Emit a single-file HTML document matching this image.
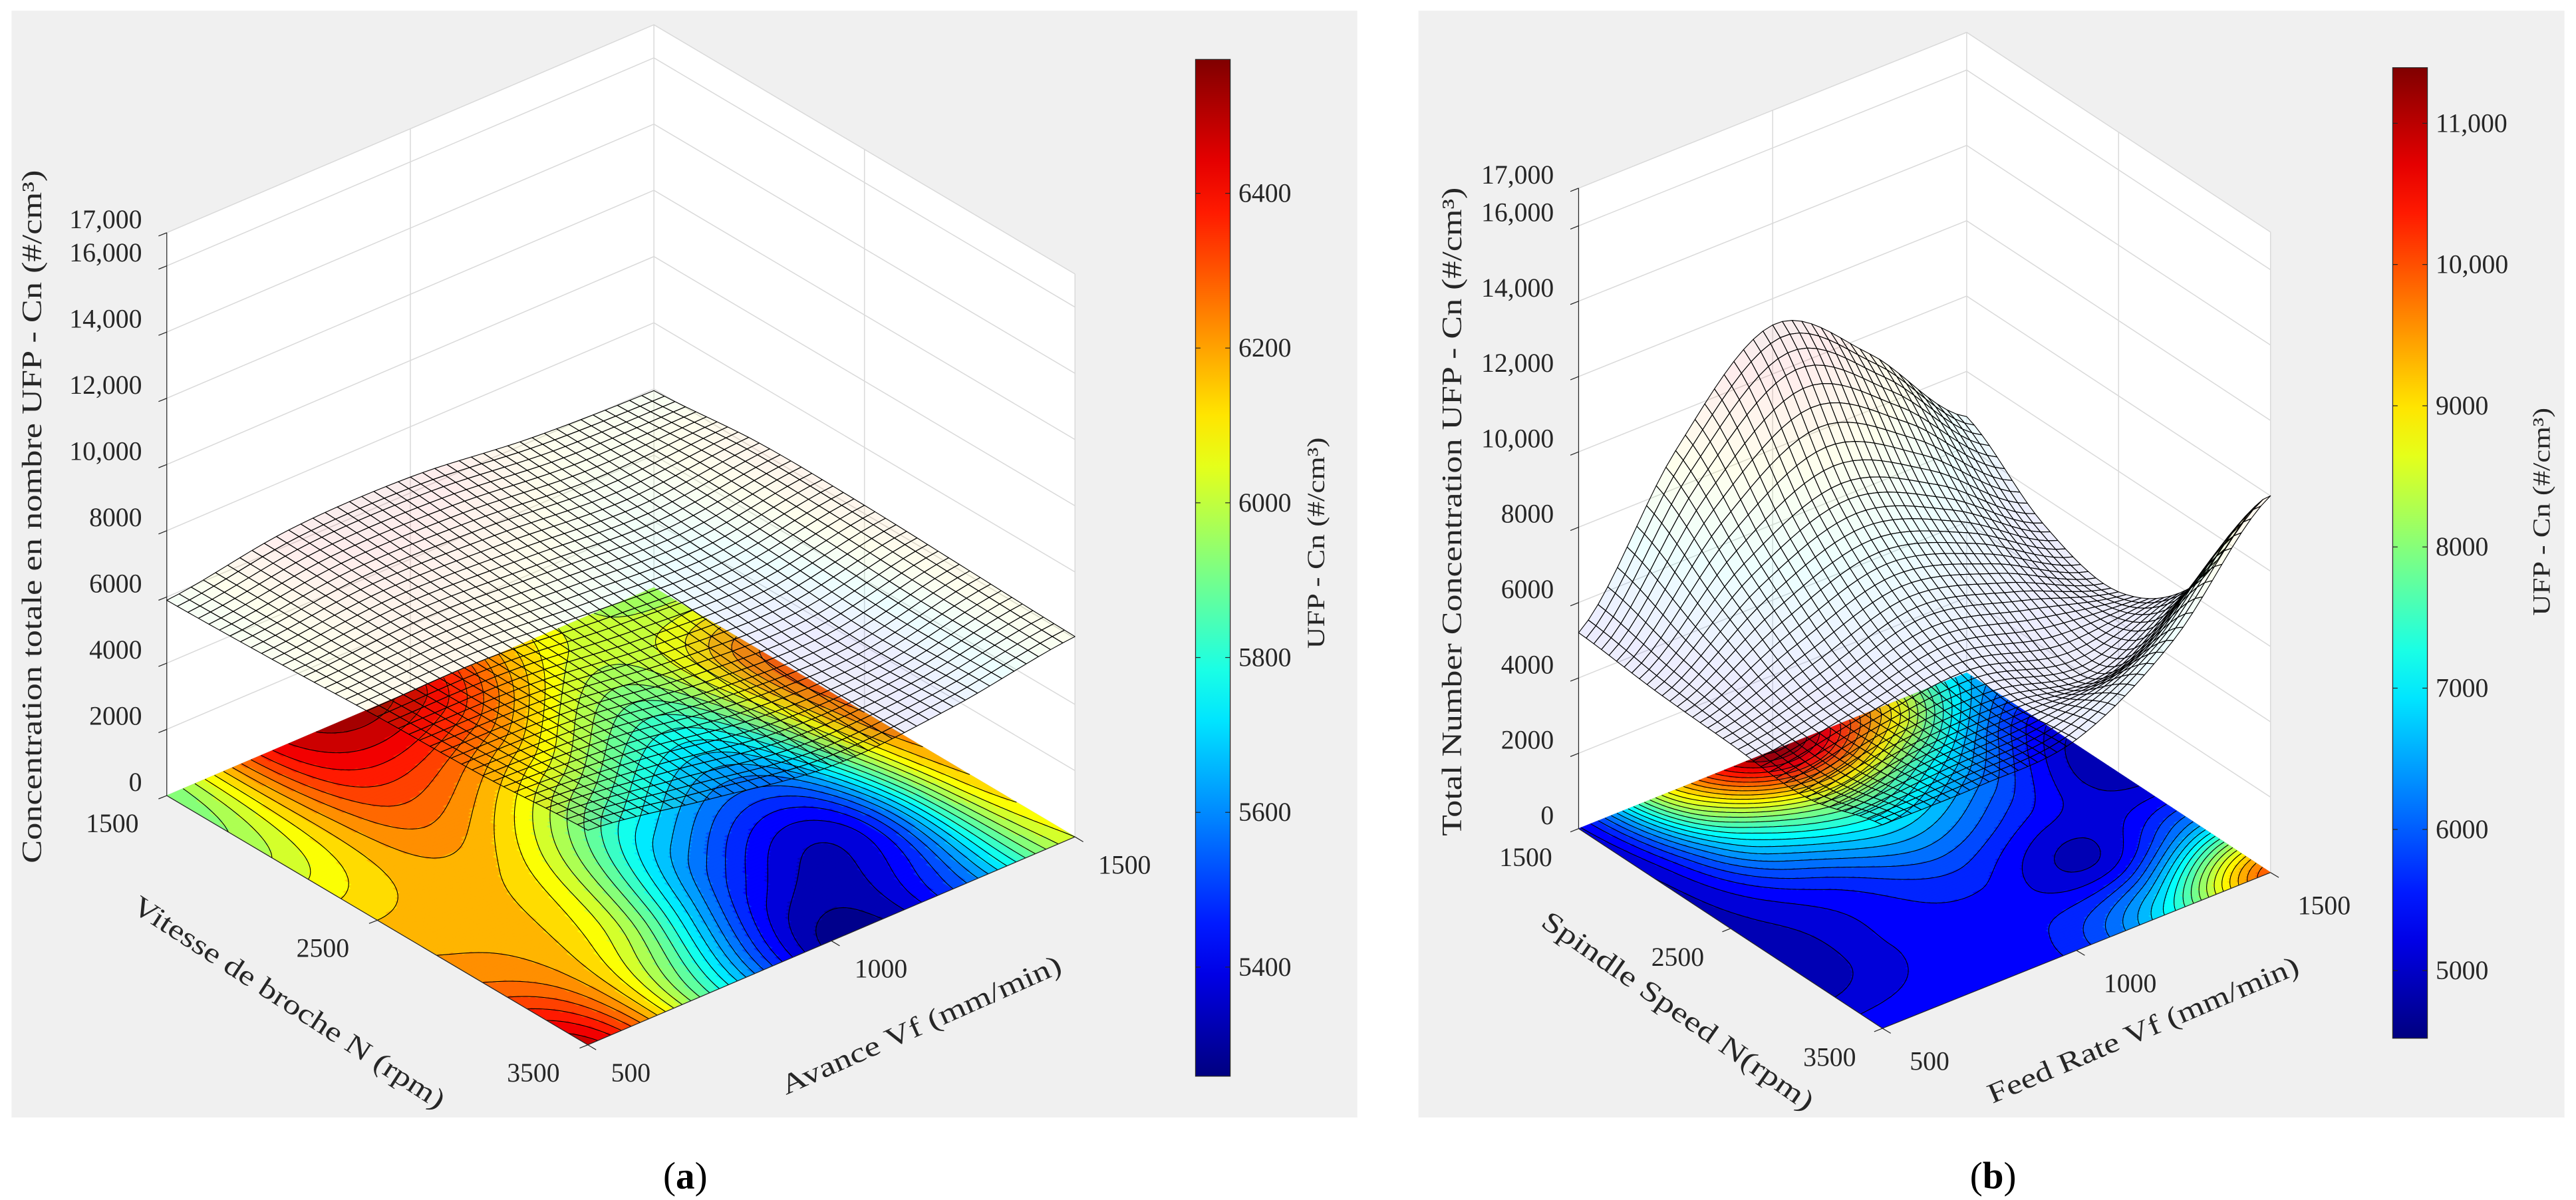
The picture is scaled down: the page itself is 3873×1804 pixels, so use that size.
<!DOCTYPE html>
<html><head><meta charset="utf-8">
<style>html,body{margin:0;padding:0;background:#fff;overflow:hidden}svg{display:block}text{fill:#262626}</style>
</head><body>
<svg id="fig" width="3873" height="1804" viewBox="0 0 1560 727" preserveAspectRatio="none" xmlns="http://www.w3.org/2000/svg" font-family="'Liberation Serif', serif">
<defs id="defs"></defs>
<rect x="7" y="6.5" width="815" height="670.5" fill="#f0f0f0"/>
<rect x="859" y="6.5" width="694" height="670.5" fill="#f0f0f0"/>
<g id="pa"></g>
<g id="pb"></g>
<text transform="translate(25,313) rotate(-90)" text-anchor="middle" font-size="17" textLength="420" lengthAdjust="spacingAndGlyphs">Concentration totale en nombre UFP - Cn (#/cm³)</text>
<text transform="translate(172,612) rotate(33)" text-anchor="middle" font-size="17" textLength="222" lengthAdjust="spacingAndGlyphs">Vitesse de broche N (rpm)</text>
<text transform="translate(560,626) rotate(-24)" text-anchor="middle" font-size="17" textLength="184" lengthAdjust="spacingAndGlyphs">Avance Vf (mm/min)</text>
<text transform="translate(802,329) rotate(-90)" text-anchor="middle" font-size="15" textLength="128" lengthAdjust="spacingAndGlyphs">UFP - Cn (#/cm³)</text>
<text transform="translate(885,310) rotate(-90)" text-anchor="middle" font-size="17" textLength="393" lengthAdjust="spacingAndGlyphs">Total Number Concentration UFP - Cn (#/cm³)</text>
<text transform="translate(1013,617) rotate(35)" text-anchor="middle" font-size="17" textLength="197" lengthAdjust="spacingAndGlyphs">Spindle Speed N(rpm)</text>
<text transform="translate(1300,629) rotate(-23)" text-anchor="middle" font-size="17" textLength="203" lengthAdjust="spacingAndGlyphs">Feed Rate Vf (mm/min)</text>
<text transform="translate(1544,310) rotate(-90)" text-anchor="middle" font-size="15" textLength="126" lengthAdjust="spacingAndGlyphs">UFP - Cn (#/cm³)</text>
<text x="415" y="720" text-anchor="middle" font-size="23" style="fill:#000">(<tspan font-weight="bold" style="fill:#000">a</tspan>)</text>
<text x="1207" y="720" text-anchor="middle" font-size="23" style="fill:#000">(<tspan font-weight="bold" style="fill:#000">b</tspan>)</text>
</svg>
<script>
// ---- data ----
const gridSpeed = [1500, 2000, 2500, 3000, 3500];
const gridFeed = [500, 750, 1000, 1250, 1500];
const cnA_1500 = [5900, 6450, 6480, 6100, 5950];
const cnA_2000 = [6000, 6300, 6150, 5900, 6250];
const cnA_2500 = [6150, 6150, 5800, 5650, 6250];
const cnA_3000 = [6250, 6050, 5500, 5400, 6150];
const cnA_3500 = [6480, 5850, 5280, 5500, 6050];
const cnB_1500 = [5200, 9000, 11300, 9500, 6800];
const cnB_2000 = [5000, 7000, 8000, 7000, 5300];
const cnB_2500 = [4900, 5500, 6200, 5600, 4800];
const cnB_3000 = [4800, 5300, 5400, 5000, 6300];
const cnB_3500 = [5400, 5400, 5600, 7200, 10000];
const speedTicks = [1500, 2500, 3500];
const feedTicks = [500, 1000, 1500];
const zTicks = [0, 2000, 4000, 6000, 8000, 10000, 12000, 14000, 16000, 17000];
const zTickLabels = ['0', '2000', '4000', '6000', '8000', '10,000', '12,000', '14,000', '16,000', '17,000'];
const cbTicksA = [5400, 5600, 5800, 6000, 6200, 6400];
const cbTicksB = [5000, 6000, 7000, 8000, 9000, 10000, 11000];
const cbTickLabelsB = ['5000', '6000', '7000', '8000', '9000', '10,000', '11,000'];
const climA = [5259, 6573];
const climB = [4521, 11394];

const NS = 'http://www.w3.org/2000/svg';
function mk(tag, attrs, parent) {
  const e = document.createElementNS(NS, tag);
  for (const k in attrs) e.setAttribute(k, attrs[k]);
  parent.appendChild(e);
  return e;
}
function clamp(x) { return Math.max(0, Math.min(1, x)); }
function jet(t) {
  t = clamp(t);
  const r = clamp(1.5 - Math.abs(4 * t - 3)), g = clamp(1.5 - Math.abs(4 * t - 2)), b = clamp(1.5 - Math.abs(4 * t - 1));
  return 'rgb(' + Math.round(r * 255) + ',' + Math.round(g * 255) + ',' + Math.round(b * 255) + ')';
}
function cr(p0, p1, p2, p3, t) {
  return 0.5 * ((2 * p1) + (-p0 + p2) * t + (2 * p0 - 5 * p1 + 4 * p2 - p3) * t * t + (-p0 + 3 * p1 - 3 * p2 + p3) * t * t * t);
}
function interp(G, u, v) {
  const n = G.length - 1;
  const s = u * n, t = v * n;
  const i = Math.min(Math.floor(s), n - 1), j = Math.min(Math.floor(t), n - 1);
  const fs = s - i, ft = t - j;
  const g = (a, b) => G[Math.max(0, Math.min(n, a))][Math.max(0, Math.min(n, b))];
  const rows = [];
  for (let a = -1; a <= 2; a++) rows.push(cr(g(i + a, j - 1), g(i + a, j), g(i + a, j + 1), g(i + a, j + 2), ft));
  return cr(rows[0], rows[1], rows[2], rows[3], fs);
}
function uOf(speed) { return (speed - gridSpeed[0]) / (gridSpeed[gridSpeed.length - 1] - gridSpeed[0]); }
function vOf(feed) { return (feed - gridFeed[0]) / (gridFeed[gridFeed.length - 1] - gridFeed[0]); }

function renderPanel(P) {
  const root = document.getElementById(P.id);
  const proj = (u, v, z) => [P.L[0] + u * (P.F[0] - P.L[0]) + v * (P.B[0] - P.L[0]),
                             P.L[1] + u * (P.F[1] - P.L[1]) + v * (P.B[1] - P.L[1]) - z * P.k];
  const pt = p => p[0].toFixed(2) + ',' + p[1].toFixed(2);
  const ZT = 17000;
  const walls = mk('polygon', {points: [proj(0,0,0), proj(0,0,ZT), proj(0,1,ZT), proj(1,1,ZT), proj(1,1,0), proj(1,0,0)].map(pt).join(' '), fill: '#fff'}, root);
  
  
  let gd = '';
  for (const z of zTicks) {
    const a = proj(0,0,z), b = proj(0,1,z), c = proj(1,1,z);
    gd += 'M' + pt(a) + 'L' + pt(b) + 'L' + pt(c);
  }
  [[proj(0,0.5,0), proj(0,0.5,ZT)], [proj(0.5,1,0), proj(0.5,1,ZT)], [proj(0,1,0), proj(0,1,ZT)], [proj(1,1,0), proj(1,1,ZT)]].forEach(s => { gd += 'M' + pt(s[0]) + 'L' + pt(s[1]); });
  const grid = mk('path', {d: gd, stroke: '#d9d9d9', 'stroke-width': 0.6, fill: 'none'}, root);
  
  

  const NF = 120;
  const f = [];
  for (let i = 0; i <= NF; i++) { f.push([]); for (let j = 0; j <= NF; j++) f[i].push(interp(P.G, i / NF, j / NF)); }
  const cg = mk('g', {}, root);
  
  
  const cmin = P.clim[0], cmax = P.clim[1];
  const band = val => Math.floor((val - P.base) / P.step);
  const bandColor = k => jet((P.base + (k + 0.5) * P.step - cmin) / (cmax - cmin));
  for (let i = 0; i < NF; i++) {
    let j0 = 0;
    let cur = band((f[i][0] + f[i+1][0] + f[i][1] + f[i+1][1]) / 4);
    for (let j = 1; j <= NF; j++) {
      const k = j < NF ? band((f[i][j] + f[i+1][j] + f[i][j+1] + f[i+1][j+1]) / 4) : null;
      if (k !== cur) {
        const col = bandColor(cur);
        const poly = mk('polygon', {points: [proj(i/NF, j0/NF, 0), proj(i/NF, j/NF, 0), proj((i+1)/NF, j/NF, 0), proj((i+1)/NF, j0/NF, 0)].map(pt).join(' '), fill: col, stroke: col, 'stroke-width': 0.35}, cg);
        
        
        j0 = j; cur = k;
      }
    }
  }
  let ld = '';
  let vmin = Infinity, vmax = -Infinity;
  f.forEach(r => r.forEach(x => { vmin = Math.min(vmin, x); vmax = Math.max(vmax, x); }));
  for (let L = P.base + Math.ceil((vmin - P.base) / P.step) * P.step; L <= vmax; L += P.step) {
    for (let i = 0; i < NF; i++) for (let j = 0; j < NF; j++) {
      const c = [[i, j], [i+1, j], [i+1, j+1], [i, j+1]];
      const pts = [];
      for (let e = 0; e < 4; e++) {
        const p = c[e], q = c[(e + 1) % 4];
        const a = f[p[0]][p[1]] - L, b = f[q[0]][q[1]] - L;
        if ((a < 0) !== (b < 0)) {
          const t = a / (a - b);
          pts.push(proj((p[0] + t * (q[0] - p[0])) / NF, (p[1] + t * (q[1] - p[1])) / NF, 0));
        }
      }
      for (let s = 0; s + 1 < pts.length; s += 2) ld += 'M' + pt(pts[s]) + 'L' + pt(pts[s + 1]);
    }
  }
  const lines = mk('path', {d: ld, stroke: '#000', 'stroke-width': 0.45, fill: 'none'}, root);
  
  

  const ax = mk('path', {d: 'M' + pt(proj(0,0,ZT)) + 'L' + pt(proj(0,0,0)) + 'L' + pt(proj(1,0,0)) + 'L' + pt(proj(1,1,0)), stroke: '#262626', 'stroke-width': 0.5, fill: 'none'}, root);
  
  

  const M = 40;
  const mg = mk('g', {}, root);
  
  
  const quads = [];
  for (let i = 0; i < M; i++) for (let j = 0; j < M; j++) quads.push([i, j]);
  quads.sort((a, b) => (a[0] + (M - a[1])) - (b[0] + (M - b[1])));
  const zAt = (i, j) => interp(P.G, i / M, j / M);
  for (const q of quads) {
    const i = q[0], j = q[1];
    const z00 = zAt(i, j), z10 = zAt(i+1, j), z11 = zAt(i+1, j+1), z01 = zAt(i, j+1);
    const zc = (z00 + z10 + z11 + z01) / 4;
    const poly = mk('polygon', {points: [proj(i/M, j/M, z00), proj((i+1)/M, j/M, z10), proj((i+1)/M, (j+1)/M, z11), proj(i/M, (j+1)/M, z01)].map(pt).join(' '),
      fill: jet((zc - cmin) / (cmax - cmin)), 'fill-opacity': 0.07, stroke: '#000', 'stroke-width': 0.45, 'stroke-linejoin': 'round'}, mg);
    
    
  }

  const tg = mk('g', {'font-size': 16}, root);
  
  
  let td = '';
  zTicks.forEach((z, n) => {
    const p = proj(0, 0, z);
    td += 'M' + pt(p) + 'L' + pt([p[0] - 5, p[1] + 2]);
    const t = mk('text', {x: p[0] - 15, y: p[1] - 8, 'text-anchor': 'end', 'dominant-baseline': 'central'}, tg);
    
    
    t.textContent = zTickLabels[n];
  });
  speedTicks.forEach(s => {
    const p = proj(uOf(s), 0, 0);
    td += 'M' + pt(p) + 'L' + pt([p[0] - 5, p[1] + 2]);
    const t = mk('text', {x: p[0] + P.nOff[0], y: p[1] + P.nOff[1], 'text-anchor': 'middle', 'dominant-baseline': 'central'}, tg);
    
    
    t.textContent = String(s);
  });
  feedTicks.forEach(v => {
    const p = proj(1, vOf(v), 0);
    td += 'M' + pt(p) + 'L' + pt([p[0] + 5, p[1] + 3]);
    const t = mk('text', {x: p[0] + P.fOff[0], y: p[1] + P.fOff[1], 'text-anchor': 'start', 'dominant-baseline': 'central'}, tg);
    
    
    t.textContent = String(v);
  });
  const tk = mk('path', {d: td, stroke: '#262626', 'stroke-width': 0.5, fill: 'none'}, root);
  
  

  const defs = document.getElementById('defs');
  const grad = mk('linearGradient', {id: 'grad-' + P.id, x1: 0, y1: 1, x2: 0, y2: 0}, defs);
  
  
  for (let s = 0; s <= 20; s++) {
    const st = mk('stop', {offset: s / 20, 'stop-color': jet(s / 20)}, grad);
    
    
  }
  const cb = P.cb;
  const bar = mk('rect', {x: cb.x, y: cb.y, width: cb.w, height: cb.h, fill: 'url(#grad-' + P.id + ')', stroke: '#262626', 'stroke-width': 0.5}, root);
  
  
  const cy = val => cb.y + (cmax - val) / (cmax - cmin) * cb.h;
  let cd = '';
  P.cbTicks.forEach((val, n) => {
    const y = cy(val);
    cd += 'M' + cb.x + ',' + y + 'h3M' + (cb.x + cb.w) + ',' + y + 'h-3';
    const t = mk('text', {x: cb.x + cb.w + 5, y: y, 'dominant-baseline': 'central', 'font-size': 16}, root);
    
    
    t.textContent = P.cbLabels[n];
  });
  const ct = mk('path', {d: cd, stroke: '#262626', 'stroke-width': 0.5}, root);
  
  
}

renderPanel({id: 'pa', L: [101, 482], F: [356, 633], B: [396, 356], k: 341 / 17000,
  G: [cnA_1500, cnA_2000, cnA_2500, cnA_3000, cnA_3500], clim: climA, base: 5250, step: 50,
  nOff: [-33, 17], fOff: [14, 17], cb: {x: 724, y: 36, w: 21, h: 616},
  cbTicks: cbTicksA, cbLabels: cbTicksA.map(String)});
renderPanel({id: 'pb', L: [956, 502], F: [1140, 623], B: [1191, 407.6], k: 388 / 17000,
  G: [cnB_1500, cnB_2000, cnB_2500, cnB_3000, cnB_3500], clim: climB, base: 4500, step: 250,
  nOff: [-32, 17.5], fOff: [16.5, 20], cb: {x: 1449, y: 41, w: 21, h: 588},
  cbTicks: cbTicksB, cbLabels: cbTickLabelsB});
</script>
</body></html>
